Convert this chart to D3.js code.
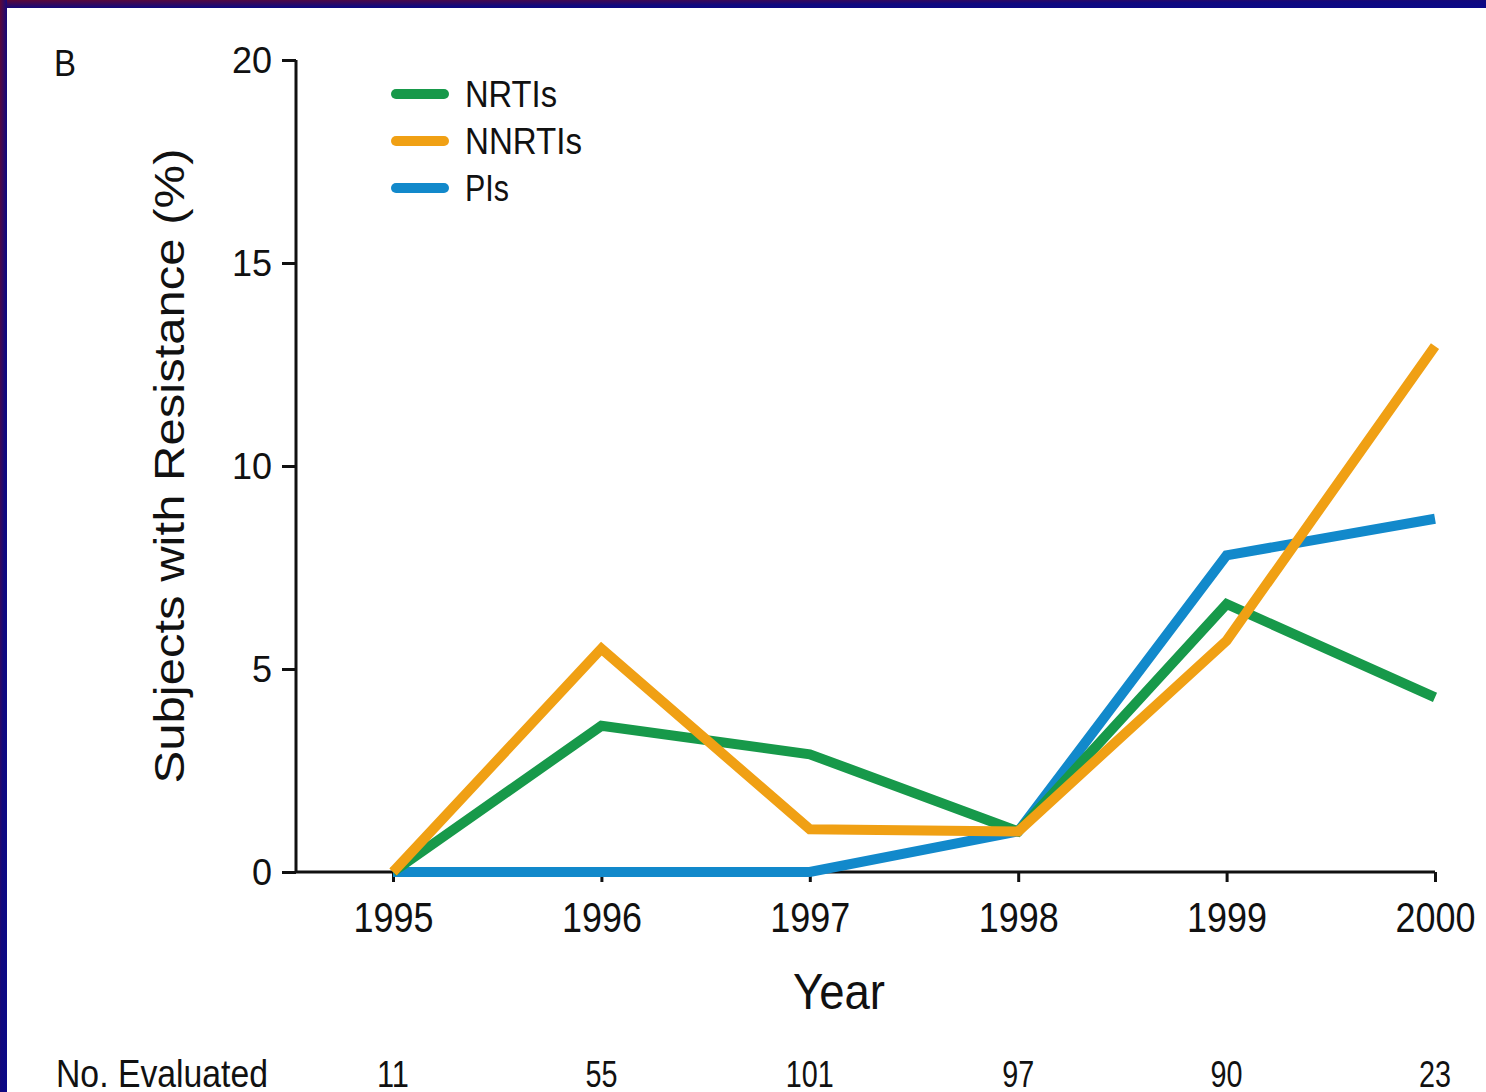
<!DOCTYPE html>
<html>
<head>
<meta charset="utf-8">
<script src="https://cdn.jsdelivr.net/npm/d3@7"></script>
<style>
  body { margin: 0; background: #fff; }
  svg text { font-family: 'Liberation Sans', Arial, sans-serif; fill: #111; }
</style>
</head>
<body>
<svg id="chart" width="1486" height="1092"></svg>
<script>
const years = [1995, 1996, 1997, 1998, 1999, 2000]
const evaluated = [11, 55, 101, 97, 90, 23]
const yTicks = [0, 5, 10, 15, 20]
const nrtis = [0, 3.6, 2.9, 1.0, 6.6, 4.3]
const nnrtis = [0, 5.5, 1.05, 1.0, 5.7, 12.95]
const pis = [0, 0, 0, 1.0, 7.8, 8.7]
const seriesNames = ['NRTIs', 'NNRTIs', 'PIs']
const seriesColors = ['#17994a', '#f0a014', '#1289cb']

const svg = d3.select('#chart')
const width = 1486
const height = 1092
const axisX = 296

// slide border (top and left band)
const grad = svg.append('defs').append('linearGradient')
  .attr('id', 'border').attr('x1', '0').attr('y1', '0').attr('x2', '1').attr('y2', '1')
grad.append('stop').attr('offset', '0').attr('stop-color', '#5c0838')
grad.append('stop').attr('offset', '0.55').attr('stop-color', '#10087e')
grad.append('stop').attr('offset', '1').attr('stop-color', '#0a0888')
svg.append('rect').attr('width', width).attr('height', 8).attr('fill', 'url(#border)')
svg.append('rect').attr('width', 7).attr('height', height).attr('fill', 'url(#border)')

const xScale = d3.scaleLinear().domain([1995, 2000]).range([393, 1435])
const yScale = d3.scaleLinear().domain([0, 20]).range([872, 60])

// axes
const yAxis = d3.axisLeft(yScale).tickValues(yTicks).tickSize(14).tickPadding(10)
const xAxis = d3.axisBottom(xScale).tickValues(years).tickFormat(d3.format('d')).tickSize(10)

const gy = svg.append('g').attr('transform', `translate(${axisX},0)`).call(yAxis)
gy.select('.domain').remove()
gy.append('line').attr('x1', 0).attr('x2', 0).attr('y1', yScale(20)).attr('y2', yScale(0))
  .attr('stroke', '#111').attr('stroke-width', 3)
gy.selectAll('.tick line').attr('stroke', '#111').attr('stroke-width', 3)
gy.selectAll('.tick text').style('font-size', '36px').attr('dy', '0.36em')

const gx = svg.append('g').attr('transform', `translate(0,${yScale(0)})`).call(xAxis)
gx.select('.domain').remove()
gx.append('line').attr('x1', axisX).attr('x2', xScale(2000)).attr('y1', 0).attr('y2', 0)
  .attr('stroke', '#111').attr('stroke-width', 3)
gx.selectAll('.tick line').attr('stroke', '#111').attr('stroke-width', 3)
gx.selectAll('.tick text')
  .attr('y', 60).attr('dy', null)
  .style('font-size', '43px')
  .attr('textLength', 80).attr('lengthAdjust', 'spacingAndGlyphs')

// lines
const line = d3.line()
  .x((d, i) => xScale(years[i]))
  .y(d => yScale(d))
const seriesData = [nrtis, nnrtis, pis]
const drawOrder = [2, 0, 1]
drawOrder.forEach(k => {
  svg.append('path')
    .datum(seriesData[k])
    .attr('d', line)
    .attr('fill', 'none')
    .attr('stroke', seriesColors[k])
    .attr('stroke-width', 10)
    .attr('stroke-linejoin', 'miter')
})

// legend
const legend = svg.append('g').attr('transform', 'translate(392,94)')
seriesNames.forEach((name, i) => {
  const g = legend.append('g').attr('transform', `translate(0,${i * 47})`)
  g.append('line').attr('x1', 4).attr('x2', 52).attr('y1', 0).attr('y2', 0)
    .attr('stroke', seriesColors[i]).attr('stroke-width', 10).attr('stroke-linecap', 'round')
  g.append('text').attr('x', 73).attr('y', 0).attr('dy', '0.36em')
    .style('font-size', '36px')
    .attr('textLength', [92, 117, 44][i]).attr('lengthAdjust', 'spacingAndGlyphs')
    .text(name)
})

// labels
svg.append('text').attr('x', 54).attr('y', 76).style('font-size', '36px')
  .attr('textLength', 22).attr('lengthAdjust', 'spacingAndGlyphs').text('B')
svg.append('text')
  .attr('transform', `translate(184,${yScale(10)}) rotate(-90)`)
  .attr('text-anchor', 'middle')
  .style('font-size', '42px')
  .attr('textLength', 635).attr('lengthAdjust', 'spacingAndGlyphs')
  .text('Subjects with Resistance (%)')
svg.append('text').attr('x', 839).attr('y', 1009).attr('text-anchor', 'middle')
  .style('font-size', '50px')
  .attr('textLength', 92).attr('lengthAdjust', 'spacingAndGlyphs')
  .text('Year')

// No. Evaluated row
svg.append('text').attr('x', 56).attr('y', 1087).style('font-size', '38px')
  .attr('textLength', 212).attr('lengthAdjust', 'spacingAndGlyphs')
  .text('No. Evaluated')
svg.selectAll('.nEval')
  .data(evaluated)
  .enter()
  .append('text')
  .attr('class', 'nEval')
  .attr('x', (d, i) => xScale(years[i]))
  .attr('y', 1087)
  .attr('text-anchor', 'middle')
  .style('font-size', '37px')
  .attr('textLength', d => String(d).length * 16)
  .attr('lengthAdjust', 'spacingAndGlyphs')
  .text(d => d)
</script>
</body>
</html>
